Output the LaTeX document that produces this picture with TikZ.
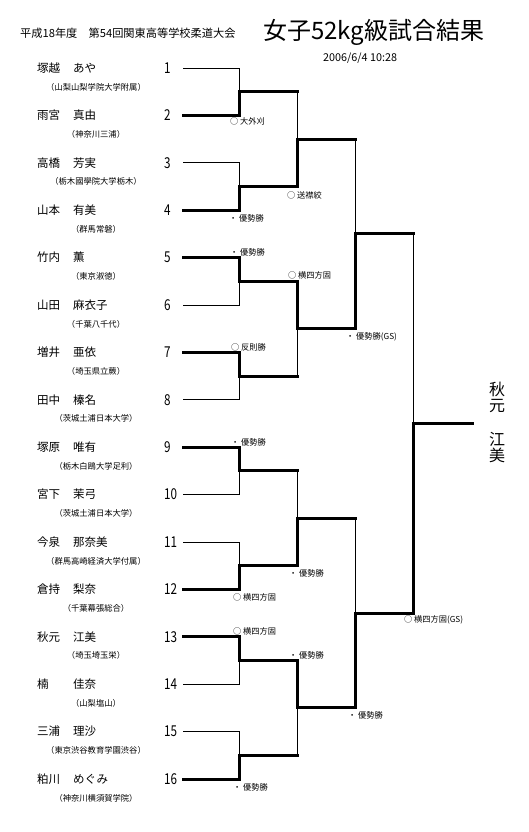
\documentclass[tikz,border=0pt]{standalone}
\usepackage{fontspec}
\setmainfont{Noto Sans CJK JP}
\newfontfamily\numfont[FakeStretch=0.78]{Noto Sans CJK JP}
\usetikzlibrary{positioning,calc}

\tikzset{
    loser/.style={line width=0.9pt},
    winner/.style={line width=3pt, line cap=rect},
    player/.style={anchor=west, inner sep=0pt, font=\fontsize{11.5}{12}\selectfont},
    school/.style={inner sep=0pt, font=\fontsize{8.3}{9}\selectfont},
    seed/.style={anchor=west, inner sep=0pt, font=\numfont\fontsize{15}{15}\selectfont},
    result/.style={anchor=west, inner sep=0pt, font=\fontsize{8.2}{9}\selectfont},
}

\begin{document}
\begin{tikzpicture}[x=1pt, y=-1pt]
    \useasboundingbox (0,0) rectangle (528,832);

    % --- heading ---
    \node[anchor=west, inner sep=0pt, font=\fontsize{11.2}{12}\selectfont] (meet) at (20,33) {平成18年度　第54回関東高等学校柔道大会};
    \node[anchor=west, inner sep=0pt, font=\fontsize{24}{24}\selectfont] (title) at (263,32) {女子52kg級試合結果};
    \node[anchor=west, inner sep=0pt, font=\fontsize{10.8}{11}\selectfont] (stamp) at (323,58) {2006/6/4 10:28};

    % --- entrants ---
    \foreach \i/\fam/\giv/\school in {1/塚越/あや/山梨山梨学院大学附属, 2/雨宮/真由/神奈川三浦,
        3/高橋/芳実/栃木國學院大学栃木, 4/山本/有美/群馬常磐, 5/竹内/薫/東京淑徳,
        6/山田/麻衣子/千葉八千代, 7/増井/亜依/埼玉県立蕨, 8/田中/榛名/茨城土浦日本大学,
        9/塚原/唯有/栃木白鴎大学足利, 10/宮下/茉弓/茨城土浦日本大学, 11/今泉/那奈美/群馬高崎経済大学付属,
        12/倉持/梨奈/千葉幕張総合, 13/秋元/江美/埼玉埼玉栄, 14/楠/佳奈/山梨塩山,
        15/三浦/理沙/東京渋谷教育学園渋谷, 16/粕川/めぐみ/神奈川横須賀学院}{
        \pgfmathsetmacro{\yy}{68+47.4*(\i-1)}
        \node[player] (name\i) at (37,\yy) {\makebox[36pt][l]{\fam}\giv};
        \node[school] (school\i) at (96,\yy+19) {（\school）};
        \node[seed] (num\i) at (164,\yy) {\i};
        \coordinate (p\i) at (183,\yy);
    }

    % --- joints of the bracket ---
    \foreach \k in {1,...,8}{
        \coordinate (a\k) at (239,{68+47.4*(2*\k-1.5)});
    }
    \coordinate (b1) at ($(a1)!.5!(a2)+(58,0)$);
    \coordinate (b2) at ($(a3)!.5!(a4)+(58,0)$);
    \coordinate (b3) at ($(a5)!.5!(a6)+(58,0)$);
    \coordinate (b4) at ($(a7)!.5!(a8)+(58,0)$);
    \coordinate (c1) at ($(b1)!.5!(b2)+(58,0)$);
    \coordinate (c2) at ($(b3)!.5!(b4)+(58,0)$);
    \coordinate (d) at ($(c1)!.5!(c2)+(58,0)$);
    \coordinate (champ) at ($(d)+(59,0)$);

    % first round
    \foreach \w/\l/\j in {2/1/a1, 4/3/a2, 5/6/a3, 7/8/a4, 9/10/a5, 12/11/a6, 13/14/a7, 16/15/a8}{
        \draw[loser] (p\l) -| (\j);
        \draw[winner] (p\w) -| (\j);
    }
    % later rounds
    \foreach \w/\l/\j in {a2/a1/b1, a3/a4/b2, a6/a5/b3, a7/a8/b4, b2/b1/c1, b4/b3/c2, c2/c1/d}{
        \draw[loser] (\l -| \j) -- (\j);
        \draw[winner] (\l) -- (\l -| \j);
        \draw[winner] (\w) -| (\j);
    }
    \draw[winner] (d) -- (champ);

    % --- winner ---
    \node[inner sep=0pt, align=center, font=\fontsize{16}{16}\selectfont] (champfam) at (497,397) {秋\\元};
    \node[inner sep=0pt, align=center, font=\fontsize{16}{16}\selectfont] (champgiv) at (497,448) {江\\美};

    % --- results ---
    \foreach \x/\y/\txt [count=\r] in {230/121/{○ 大外刈}, 229/218/{・ 優勢勝}, 287/195/{○ 送襟絞},
        230/252/{・ 優勢勝}, 288/275/{○ 横四方固}, 231/347/{○ 反則勝}, 346/337/{・ 優勢勝(GS)},
        231/442/{・ 優勢勝}, 289/573/{・ 優勢勝}, 233/597/{○ 横四方固}, 233/631/{○ 横四方固},
        289/655/{・ 優勢勝}, 348/715/{・ 優勢勝}, 233/787/{・ 優勢勝}, 404/620/{○ 横四方固(GS)}}{
        \node[result] (res\r) at (\x,\y) {\txt};
    }
\end{tikzpicture}
\end{document}
